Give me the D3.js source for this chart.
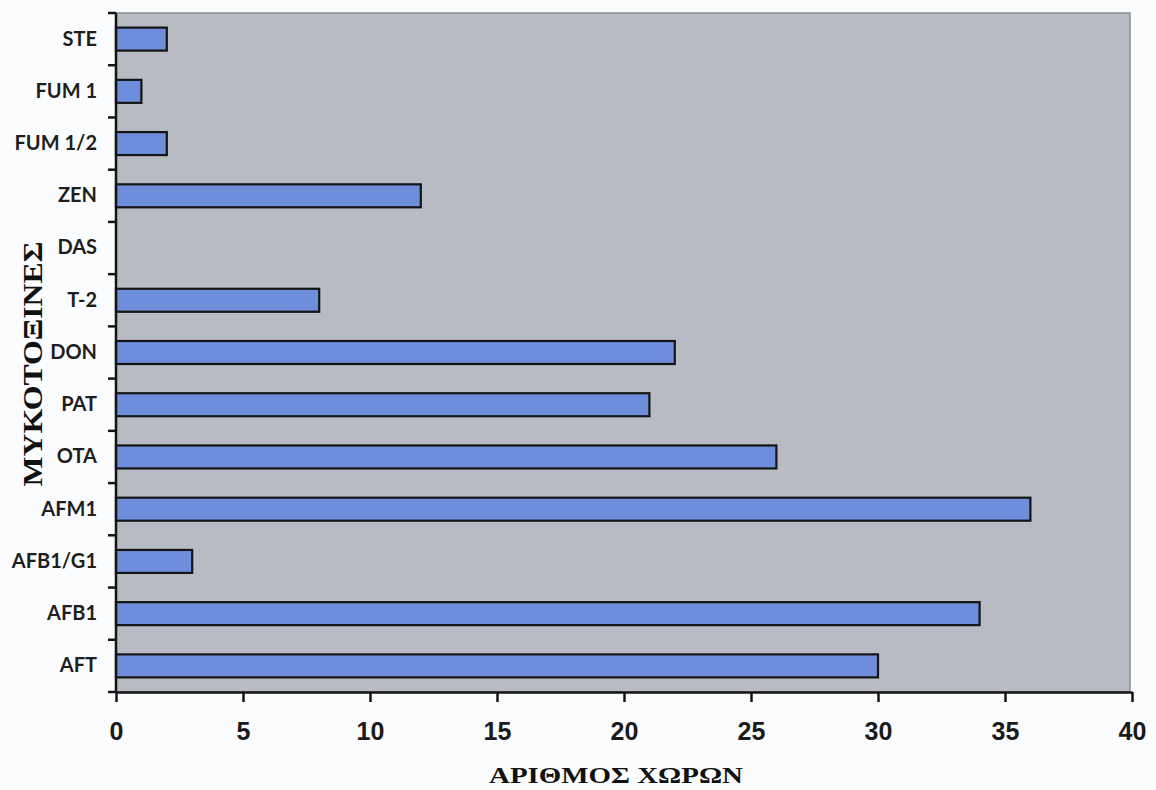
<!DOCTYPE html>
<html>
<head>
<meta charset="utf-8">
<script src="https://cdn.jsdelivr.net/npm/d3@7"></script>
<style>
  html, body { margin: 0; padding: 0; background: #fbfcfd; }
  svg { display: block; }
</style>
</head>
<body>
<svg id="chart" width="1156" height="790"></svg>
<script>
// Categories, top to bottom
const categories = ["STE", "FUM 1", "FUM 1/2", "ZEN", "DAS", "T-2", "DON", "PAT", "OTA", "AFM1", "AFB1/G1", "AFB1", "AFT"];
const values = [2, 1, 2, 12, 0, 8, 22, 21, 26, 36, 3, 34, 30];
const xTicks = [0, 5, 10, 15, 20, 25, 30, 35, 40];
const xTitle = "ΑΡΙΘΜΟΣ ΧΩΡΩΝ";
const yTitle = "ΜΥΚΟΤΟΞΙΝΕΣ";

const svg = d3.select("#chart");
const mLeft = 116, mRight = 1132, mTop = 13, mBottom = 692;

const x = d3.scaleLinear().domain([0, 40]).range([mLeft, mRight]);
const y = d3.scaleBand().domain(categories).range([mTop, mBottom]).padding(0);

// plot background
svg.append("rect")
  .attr("x", mLeft).attr("y", mTop)
  .attr("width", x(40) - mLeft - 2).attr("height", mBottom - mTop)
  .attr("fill", "#b8bbc3")
  .attr("stroke", "#8c8f95").attr("stroke-width", 1.5);

// bars
const bh = y.bandwidth() * 0.44;
svg.append("g").selectAll("rect")
  .data(categories.map((c, i) => ({ c, v: values[i] })).filter(d => d.v > 0))
  .join("rect")
  .attr("x", x(0))
  .attr("y", d => y(d.c) + (y.bandwidth() - bh) / 2)
  .attr("width", d => x(d.v) - x(0))
  .attr("height", bh)
  .attr("fill", "#6e8edb")
  .attr("stroke", "#141414")
  .attr("stroke-width", 2.2);

// x axis
const xAxis = svg.append("g")
  .attr("transform", `translate(0,${mBottom})`)
  .call(d3.axisBottom(x).tickValues(xTicks).tickSize(10).tickPadding(20).tickSizeOuter(0));
xAxis.attr("font-size", null).attr("font-family", null);
xAxis.select(".domain").attr("stroke", "#141414").attr("stroke-width", 2.5);
xAxis.selectAll(".tick line").attr("stroke", "#141414").attr("stroke-width", 2.5);
xAxis.selectAll(".tick text")
  .attr("fill", "#1a1a1a")
  .attr("font-family", "'Liberation Sans', Arial, sans-serif")
  .attr("font-weight", "bold")
  .attr("font-size", 25);

// y axis (labels centered on bands, ticks at band boundaries)
const yAxis = svg.append("g")
  .attr("transform", `translate(${mLeft},0)`)
  .call(d3.axisLeft(y).tickSize(0).tickPadding(19).tickSizeOuter(0));
yAxis.attr("font-size", null).attr("font-family", null);
yAxis.select(".domain").remove();
yAxis.selectAll(".tick text")
  .attr("fill", "#1e1e1e")
  .attr("font-family", "Lato, 'Open Sans', sans-serif")
  .attr("font-weight", "bold")
  .attr("font-size", 20);

const boundaries = categories.map(c => y(c)).concat([mBottom]);
svg.append("line")
  .attr("x1", mLeft).attr("x2", mLeft)
  .attr("y1", mTop).attr("y2", mBottom + 1)
  .attr("stroke", "#141414").attr("stroke-width", 2.5);
svg.append("g").selectAll("line")
  .data(boundaries)
  .join("line")
  .attr("x1", mLeft - 8).attr("x2", mLeft)
  .attr("y1", d => d).attr("y2", d => d)
  .attr("stroke", "#141414").attr("stroke-width", 2.5);

// axis titles
svg.append("text")
  .attr("x", 616).attr("y", 783)
  .attr("text-anchor", "middle")
  .attr("textLength", 254).attr("lengthAdjust", "spacingAndGlyphs")
  .attr("font-family", "'Liberation Serif', 'DejaVu Serif', serif")
  .attr("font-weight", "bold")
  .attr("font-size", 23)
  .attr("fill", "#111")
  .text(xTitle);

svg.append("text")
  .attr("transform", "translate(42,364) rotate(-90)")
  .attr("text-anchor", "middle")
  .attr("textLength", 245).attr("lengthAdjust", "spacingAndGlyphs")
  .attr("font-family", "'Liberation Serif', 'DejaVu Serif', serif")
  .attr("font-weight", "bold")
  .attr("font-size", 27)
  .attr("fill", "#111")
  .text(yTitle);
</script>
</body>
</html>
